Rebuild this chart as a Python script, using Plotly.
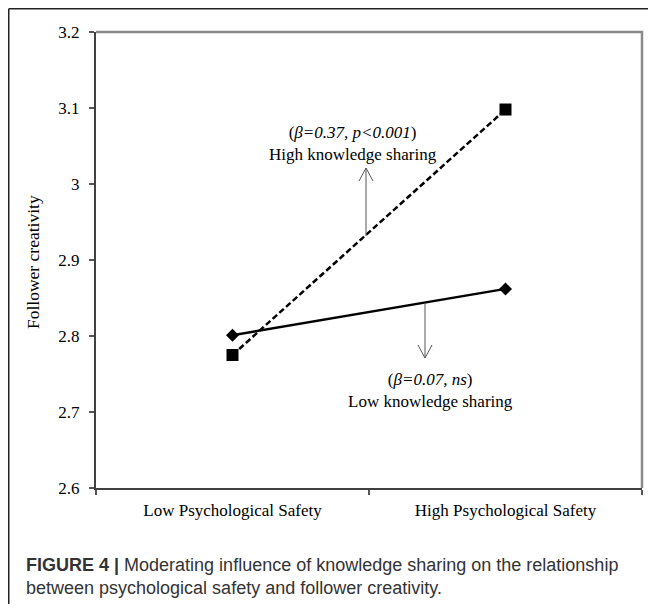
import plotly.graph_objects as go

categories = ["Low Psychological Safety", "High Psychological Safety"]
high_ks = [2.775, 3.098]
low_ks = [2.801, 2.862]
y_ticks = [2.6, 2.7, 2.8, 2.9, 3.0, 3.1, 3.2]
y_ticklabels = ["2.6", "2.7", "2.8", "2.9", "3", "3.1", "3.2"]

OFF = 8  # page body margin
W, H = 659 - 2 * OFF, 612 - 2 * OFF
L, T = 96 - OFF, 32 - OFF
R = W - (642 - OFF)
B = H - (488 - OFF)
PW, PH = W - L - R, H - T - B


def xp(px):
    return (px - OFF - L) / PW


def yp(py):
    return (H - B - (py - OFF)) / PH


serif = "Liberation Serif"
sans = "Liberation Sans"

fig = go.Figure()
fig.add_trace(go.Scatter(
    x=categories, y=high_ks, mode="lines+markers",
    line=dict(color="black", width=2.5, dash="6px,3px"),
    marker=dict(symbol="square", size=12, color="black"),
    showlegend=False, cliponaxis=False))
fig.add_trace(go.Scatter(
    x=categories, y=low_ks, mode="lines+markers",
    line=dict(color="black", width=2.5),
    marker=dict(symbol="diamond", size=10, color="black"),
    showlegend=False, cliponaxis=False))

shapes = []
# outer frame (left and top)
shapes.append(dict(type="line", xref="paper", yref="paper",
                   x0=xp(8.75), y0=yp(604), x1=xp(8.75), y1=yp(8.75),
                   line=dict(color="#222222", width=1.5)))
shapes.append(dict(type="line", xref="paper", yref="paper",
                   x0=xp(8.75), y0=yp(8.75), x1=xp(648), y1=yp(8.75),
                   line=dict(color="#222222", width=1.5)))
# plot box top and right
shapes.append(dict(type="path", xref="paper", yref="paper",
                   path="M 0 1 L 1 1 L 1 0",
                   line=dict(color="#8a8a8a", width=2.5)))


def arrow(x, y0, y1):
    d = 1 if y1 < y0 else -1
    shapes.append(dict(type="line", xref="paper", yref="paper",
                       x0=xp(x), y0=yp(y0), x1=xp(x), y1=yp(y1),
                       line=dict(color="#555555", width=1)))
    shapes.append(dict(type="path", xref="paper", yref="paper",
                       path=f"M {xp(x-7)} {yp(y1 + d*13)} L {xp(x)} {yp(y1)} L {xp(x+7)} {yp(y1 + d*13)}",
                       line=dict(color="#555555", width=1)))


arrow(366, 236, 168)
arrow(425, 303, 358)

annotations = [
    dict(xref="paper", yref="paper", x=xp(353), y=yp(143), xanchor="center", yanchor="middle",
         text="(<i>β=0.37, p&lt;0.001</i>)<br>High knowledge sharing", showarrow=False,
         font=dict(family=serif, size=17, color="black")),
    dict(xref="paper", yref="paper", x=xp(430), y=yp(390), xanchor="center", yanchor="middle",
         text="(<i>β=0.07, ns</i>)<br>Low knowledge sharing", showarrow=False,
         font=dict(family=serif, size=17, color="black")),
    dict(xref="paper", yref="paper", x=xp(33), y=yp(262), xanchor="center", yanchor="middle",
         text="Follower creativity", textangle=-90, showarrow=False,
         font=dict(family=serif, size=17.5, color="black")),
    dict(xref="paper", yref="paper", x=xp(24), y=yp(565), xanchor="left", yanchor="middle",
         text="<b>FIGURE 4 |</b> Moderating influence of knowledge sharing on the relationship",
         showarrow=False, font=dict(family=sans, size=18, color="#333333")),
    dict(xref="paper", yref="paper", x=xp(24), y=yp(588), xanchor="left", yanchor="middle",
         text="between psychological safety and follower creativity.",
         showarrow=False, font=dict(family=sans, size=18, color="#333333")),
]

fig.update_layout(
    width=W, height=H,
    margin=dict(l=L, r=R, t=T, b=B, pad=0),
    paper_bgcolor="white", plot_bgcolor="white",
    font=dict(family=serif, color="black"),
    shapes=shapes, annotations=annotations,
    xaxis=dict(type="category", range=[-0.5, 1.5], showgrid=False, zeroline=False,
               showline=True, linecolor="#404040", linewidth=2,
               ticks="outside", ticklen=5, tickcolor="#555555", tickwidth=1.5,
               tickson="boundaries", ticklabelstandoff=6,
               tickfont=dict(family=serif, size=17, color="black")),
    yaxis=dict(range=[2.6, 3.2], tickvals=y_ticks, ticktext=y_ticklabels,
               showgrid=False, zeroline=False,
               showline=True, linecolor="#404040", linewidth=2,
               ticks="outside", ticklen=5, tickcolor="#555555", tickwidth=1.5,
               ticklabelstandoff=6,
               tickfont=dict(family=serif, size=17, color="black")),
)

fig.write_html("out.html")
